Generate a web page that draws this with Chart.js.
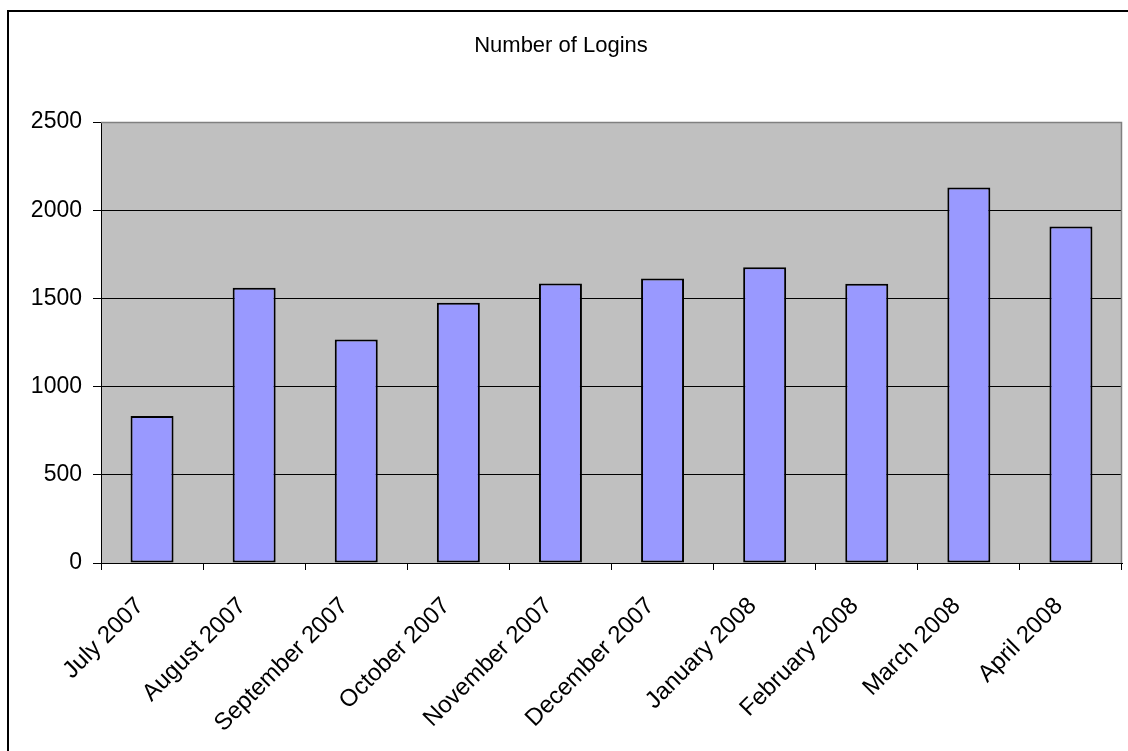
<!DOCTYPE html>
<html>
<head>
<meta charset="utf-8">
<script src="https://cdn.jsdelivr.net/npm/chart.js@4/dist/chart.umd.min.js"></script>
<style>
  html, body { margin: 0; padding: 0; background: #ffffff; }
  #wrap { width: 1128px; height: 751px; position: relative; }
</style>
</head>
<body>
<div id="wrap"><canvas id="chart" width="1128" height="751"></canvas></div>
<script>
// Monthly login counts
const months = [
  'July 2007', 'August 2007', 'September 2007', 'October 2007', 'November 2007',
  'December 2007', 'January 2008', 'February 2008', 'March 2008', 'April 2008'
];
const logins = [834, 1560, 1267, 1476, 1584, 1613, 1677, 1583, 2129, 1908];
const yTicks = [0, 500, 1000, 1500, 2000, 2500];

const FONT = "'Liberation Sans', Arial, sans-serif";

// Outer frame, grey plot background and plot border
const framePlugin = {
  id: 'frame',
  beforeDraw(chart) {
    const { ctx, chartArea: a } = chart;
    ctx.save();
    ctx.fillStyle = '#ffffff';
    ctx.fillRect(0, 0, chart.width, chart.height);
    ctx.fillStyle = '#c0c0c0';
    ctx.fillRect(a.left, a.top, a.right - a.left, a.bottom - a.top);
    ctx.restore();
  },
  afterDraw(chart) {
    const { ctx, chartArea: a } = chart;
    ctx.save();
    ctx.strokeStyle = '#808080';
    ctx.lineWidth = 1.5;
    ctx.beginPath();
    ctx.moveTo(a.left, a.top + 0.5);
    ctx.lineTo(a.right - 0.5, a.top + 0.5);
    ctx.lineTo(a.right - 0.5, a.bottom);
    ctx.stroke();
    ctx.strokeStyle = '#000000';
    ctx.lineWidth = 2;
    ctx.strokeRect(8, 11, chart.width + 20, chart.height + 20);
    ctx.restore();
  }
};

new Chart(document.getElementById('chart'), {
  type: 'bar',
  data: {
    labels: months,
    datasets: [{
      label: 'Number of Logins',
      data: logins,
      backgroundColor: '#9999ff',
      borderColor: '#000000',
      borderWidth: 2,
      borderSkipped: false,
      categoryPercentage: 1.0,
      barPercentage: 0.421
    }]
  },
  options: {
    responsive: false,
    animation: false,
    layout: { padding: { top: 0, left: 0, right: 6, bottom: 0 } },
    plugins: {
      legend: { display: false },
      tooltip: { enabled: false },
      title: {
        display: true,
        text: 'Number of Logins',
        color: '#000000',
        font: { family: FONT, size: 22, weight: 'normal', lineHeight: 1.2 },
        padding: { top: 32.5, bottom: 63.1 }
      }
    },
    scales: {
      x: {
        grid: {
          display: true,
          offset: true,
          drawOnChartArea: false,
          drawTicks: true,
          tickLength: 7,
          color: '#000000',
          lineWidth: 1
        },
        border: { display: true, color: '#000000', width: 1 },
        ticks: {
          color: '#000000',
          font: { family: FONT, size: 24 },
          minRotation: 45,
          maxRotation: 45,
          autoSkip: false,
          padding: 22,
          labelOffset: -12
        },
        afterFit(scale) { scale.height = 188; }
      },
      y: {
        min: 0,
        max: 2500,
        afterBuildTicks(scale) { scale.ticks = yTicks.map(v => ({ value: v })); },
        grid: {
          color: '#000000',
          lineWidth: 1,
          tickLength: 8,
          drawTicks: true
        },
        border: { display: true, color: '#000000', width: 1 },
        ticks: {
          color: '#000000',
          font: { family: FONT, size: 23 },
          padding: 11,
          callback: (v) => String(v)
        },
        afterFit(scale) { scale.width = 101; }
      }
    }
  },
  plugins: [framePlugin]
});
</script>
</body>
</html>
